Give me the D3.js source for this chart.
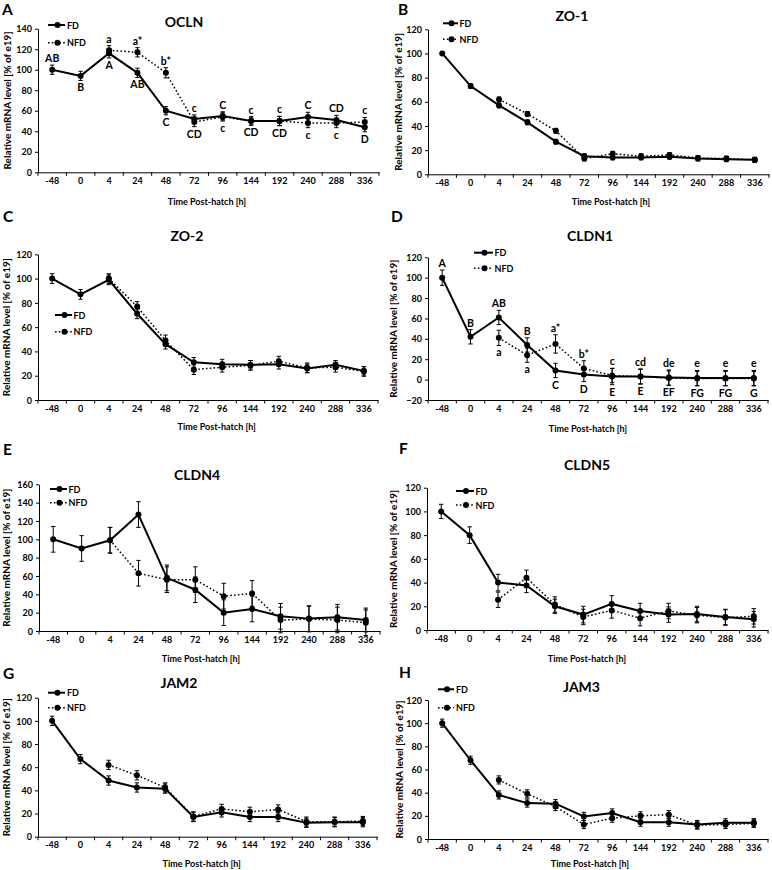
<!DOCTYPE html>
<html><head><meta charset="utf-8">
<script src="https://cdn.jsdelivr.net/npm/d3@7"></script>
<style>
body{margin:0;background:#fff}
svg{display:block}
text{font-family:Lato,"Open Sans",sans-serif;font-weight:bold;fill:#000}
</style>
</head><body>
<svg id="chart" width="772" height="870"></svg>
<script>
// ---------- DATA ----------
const categories = ["-48","0","4","24","48","72","96","144","192","240","288","336"];
const seriesNames = ["FD","NFD"];

const oclnFD     = [100, 94, 116, 97, 60, 52, 55, 50, 50, 54, 51, 44];
const oclnFDErr  = [4.5, 4.5, 4.5, 4.5, 4, 4, 4, 4, 4.5, 4.5, 4.5, 4.5];
const oclnNFD    = [null, null, 119, 117, 97, 49, 54, 50, 50, 48, 48, 49];
const oclnNFDErr = [null, null, 4.5, 4.5, 5, 4.5, 4, 4, 4.5, 4.5, 4.5, 4.5];
const oclnLabels = [[0,"above","AB"],[1,"below","B"],[2,"above","a"],[2,"below","A"],[3,"above","a*"],[3,"below","AB"],
  [4,"above","b*"],[4,"below","C"],[5,"above","c"],[5,"below","CD"],[6,"above","C"],[6,"below","c"],[7,"above","c"],[7,"below","CD"],
  [8,"above","c"],[8,"below","CD"],[9,"above","C"],[9,"below","c"],[10,"above","CD"],[10,"below","c"],[11,"above","c"],[11,"below","D"]];

const zo1FD     = [100, 73, 57, 43, 27, 15, 14, 14, 14.5, 13, 12.5, 12];
const zo1FDErr  = [1.5, 2, 2, 2, 2, 2, 2, 2, 2, 2, 2, 2];
const zo1NFD    = [null, null, 62, 50, 36, 13, 17, 15, 16, 13.5, 13, 12];
const zo1NFDErr = [null, null, 2, 2, 2, 2, 2, 2, 2, 2, 2, 2];

const zo2FD     = [100, 87, 99, 71, 46, 31, 29.5, 29, 29.5, 26, 29, 24];
const zo2FDErr  = [4, 4, 4, 4, 4, 4, 4, 3.5, 4, 3.5, 3.5, 3.5];
const zo2NFD    = [null, null, 100, 77, 49, 25, 27, 28.5, 32, 26.5, 27, 23.5];
const zo2NFDErr = [null, null, 4, 4, 4.5, 4, 4, 4, 4, 4, 4, 4];

const cldn1FD     = [100, 42, 61, 34, 9, 5, 3, 3, 2, 1.5, 1.5, 1.5];
const cldn1FDErr  = [7.5, 7, 7, 7, 7, 7, 8, 7.5, 7.5, 7.5, 7.5, 7.5];
const cldn1NFD    = [null, null, 41, 24, 35, 11, 4, 3, 1.5, 1, 1, 1];
const cldn1NFDErr = [null, null, 7.5, 7, 9, 7.5, 7, 7, 7, 7, 7, 7];
const cldn1Labels = [[0,"above","A"],[1,"above","B"],[2,"above","AB"],[2,"below","a"],[3,"above","B"],[3,"below","a"],
  [4,"above","a*"],[4,"below","C"],[5,"above","b*"],[5,"below","D"],[6,"above","c"],[6,"below","E"],[7,"above","cd"],[7,"below","E"],
  [8,"above","de"],[8,"below","EF"],[9,"above","e"],[9,"below","FG"],[10,"above","e"],[10,"below","FG"],[11,"above","e"],[11,"below","G"]];

const cldn4FD     = [100, 90, 99, 127, 58, 45, 20, 24, 16, 13.5, 15, 12];
const cldn4FDErr  = [14, 14, 14, 14, 14, 14, 14, 14, 14, 14, 14, 13];
const cldn4NFD    = [null, null, 99, 63, 56, 56, 38, 41, 12, 13, 12, 9];
const cldn4NFDErr = [null, null, 14, 14, 14, 14, 14, 14, 14, 14, 14, 14];

const cldn5FD     = [100, 80, 40, 37.5, 20, 13, 22, 16, 13, 13.5, 11, 9];
const cldn5FDErr  = [6, 7, 7, 6, 6, 7, 7, 6.5, 6.5, 6.5, 6.5, 6.5];
const cldn5NFD    = [null, null, 25.5, 44, 21.5, 11, 16.5, 10, 16, 12.5, 10.5, 11.5];
const cldn5NFDErr = [null, null, 6.5, 6.5, 6.5, 6.5, 6.5, 6.5, 6.5, 6.5, 6.5, 6.5];

const jam2FD     = [100, 67, 48.5, 42.5, 41.5, 17, 21, 17, 17, 12, 12.5, 12.5];
const jam2FDErr  = [4, 4, 4, 4, 4, 4, 4, 4, 4, 4, 4, 4];
const jam2NFD    = [null, null, 62, 53, 42.5, 17.5, 24, 21.5, 23.5, 13, 13, 13.5];
const jam2NFDErr = [null, null, 4, 4, 4, 4, 4, 4, 4, 4, 4, 4];

const jam3FD     = [100, 68, 38, 31, 30.5, 19.5, 22.5, 14.5, 14.5, 12.5, 14, 14];
const jam3FDErr  = [3.5, 3.5, 3.5, 3.5, 3.5, 3.5, 3.5, 3.5, 3.5, 3.5, 3.5, 3.5];
const jam3NFD    = [null, null, 51, 39, 28, 12.5, 18, 20, 21, 12, 12.5, 13.5];
const jam3NFDErr = [null, null, 3.5, 3.5, 3.5, 3.5, 3.5, 3.5, 3.5, 3.5, 3.5, 3.5];

const yTitle = "Relative mRNA level [% of e19]";
const xTitle = "Time Post-hatch [h]";

// ---------- LAYOUT ----------
const panels = [
 {letter:"A", gene:"OCLN", fd:oclnFD, fdErr:oclnFDErr, nfd:oclnNFD, nfdErr:oclnNFDErr, labels:oclnLabels,
  x0:38, x1:379, yTop:28.7, yBot:172.3, domain:[0,140], lx:2, ly:15, tx:184, ty:27,
  leg:{x0:48,x1:65,tx:67,y1:25,y2:42.7}, ytx:6.5, xtx:207, xtdy:29},
 {letter:"B", gene:"ZO-1", fd:zo1FD, fdErr:zo1FDErr, nfd:zo1NFD, nfdErr:zo1NFDErr, labels:[],
  x0:428, x1:769, yTop:29.3, yBot:174.3, domain:[0,120], lx:398, ly:15, tx:572, ty:21,
  leg:{x0:443,x1:458,tx:459.5,y1:23.3,y2:39.3}, ytx:398, xtx:611, xtdy:27.4},
 {letter:"C", gene:"ZO-2", fd:zo2FD, fdErr:zo2FDErr, nfd:zo2NFD, nfdErr:zo2NFDErr, labels:[],
  x0:38, x1:378, yTop:254.3, yBot:400, domain:[0,120], lx:3, ly:222, tx:187, ty:241,
  leg:{x0:55,x1:72,tx:73.5,y1:315,y2:331.7}, ytx:6, xtx:216.7, xtdy:26.7},
 {letter:"D", gene:"CLDN1", fd:cldn1FD, fdErr:cldn1FDErr, nfd:cldn1NFD, nfdErr:cldn1NFDErr, labels:cldn1Labels,
  x0:428, x1:768, yTop:257.3, yBot:400, domain:[-20,120], lx:391, ly:222, tx:590, ty:241,
  leg:{x0:474,x1:493,tx:494.5,y1:252.7,y2:268.3}, ytx:392.7, xtx:588, xtdy:28},
 {letter:"E", gene:"CLDN4", fd:cldn4FD, fdErr:cldn4FDErr, nfd:cldn4NFD, nfdErr:cldn4NFDErr, labels:[],
  x0:39, x1:380, yTop:484.3, yBot:631, domain:[0,160], lx:3, ly:455, tx:197, ty:480,
  leg:{x0:50,x1:67,tx:68.5,y1:489,y2:502.7}, ytx:6, xtx:201, xtdy:27},
 {letter:"F", gene:"CLDN5", fd:cldn5FD, fdErr:cldn5FDErr, nfd:cldn5NFD, nfdErr:cldn5NFDErr, labels:[],
  x0:427, x1:768, yTop:487.7, yBot:630, domain:[0,120], lx:399, ly:454, tx:587, ty:470,
  leg:{x0:456,x1:474,tx:475.5,y1:491,y2:505}, ytx:392.7, xtx:587, xtdy:28},
 {letter:"G", gene:"JAM2", fd:jam2FD, fdErr:jam2FDErr, nfd:jam2NFD, nfdErr:jam2NFDErr, labels:[],
  x0:38, x1:377, yTop:697.7, yBot:836.7, domain:[0,120], lx:3, ly:679, tx:179, ty:688,
  leg:{x0:48,x1:65,tx:67,y1:692.7,y2:707.7}, ytx:6, xtx:201.7, xtdy:26.6},
 {letter:"H", gene:"JAM3", fd:jam3FD, fdErr:jam3FDErr, nfd:jam3NFD, nfdErr:jam3NFDErr, labels:[],
  x0:428, x1:768, yTop:700, yBot:839, domain:[0,120], lx:399, ly:678, tx:581.5, ty:692,
  leg:{x0:438,x1:454,tx:456,y1:689.3,y2:707.7}, ytx:399.3, xtx:590, xtdy:24.3}
];

const svg = d3.select("#chart");
const DOT = "1.6,2.2";

function drawPanel(p){
  const g = svg.append("g");
  const x = d3.scaleBand().domain(categories).range([p.x0, p.x1]).padding(0);
  const y = d3.scaleLinear().domain(p.domain).range([p.yBot, p.yTop]);
  const cx = i => x(categories[i]) + x.bandwidth()/2;

  // y axis
  const ya = g.append("g").attr("transform", `translate(${p.x0},0)`)
    .call(d3.axisLeft(y).tickValues(d3.range(p.domain[0], p.domain[1] + 1, 20)).tickSize(3).tickSizeOuter(0).tickPadding(3));
  ya.attr("font-family", null).attr("font-size", null);
  ya.selectAll("text").style("font-size", "9px").attr("dy", "0.35em");
  ya.selectAll("line,path").attr("stroke", "#000").attr("stroke-width", 1);

  // x axis
  const xa = g.append("g").attr("transform", `translate(0,${p.yBot})`)
    .call(d3.axisBottom(x).tickSize(0).tickSizeOuter(0).tickPadding(8.5));
  xa.attr("font-family", null).attr("font-size", null);
  xa.selectAll("text").style("font-size", "9px").attr("dy", "0.35em");
  xa.select("path").attr("stroke", "#000").attr("stroke-width", 1);
  const bounds = categories.map(c => x(c)).concat([p.x1]);
  xa.selectAll("line.bt").data(bounds).join("line").attr("class","bt")
    .attr("x1", d => d).attr("x2", d => d).attr("y1", 0).attr("y2", 3.5)
    .attr("stroke", "#000").attr("stroke-width", 1);

  // titles
  g.append("text").attr("x", p.ytx).attr("y", (p.yTop + p.yBot)/2)
    .attr("transform", `rotate(-90,${p.ytx},${(p.yTop + p.yBot)/2})`)
    .attr("text-anchor", "middle").attr("dominant-baseline", "central")
    .style("font-size", "10px").text(yTitle);
  g.append("text").attr("x", p.xtx).attr("y", p.yBot + p.xtdy)
    .attr("text-anchor", "middle").attr("dominant-baseline", "central")
    .style("font-size", "9px").text(xTitle);
  g.append("text").attr("x", p.tx).attr("y", p.ty).attr("text-anchor", "middle")
    .style("font-size", "14px").text(p.gene);
  g.append("text").attr("x", p.lx).attr("y", p.ly).style("font-size", "15.5px").text(p.letter);

  // series
  const series = [
    {name:"NFD", vals:p.nfd, err:p.nfdErr, dash:DOT, width:1.5},
    {name:"FD", vals:p.fd, err:p.fdErr, dash:null, width:2}
  ];
  series.forEach(s => {
    const pts = s.vals.map((v, i) => ({v, i, e: s.err[i]})).filter(d => d.v != null);
    const line = d3.line().x(d => cx(d.i)).y(d => y(d.v));
    g.append("path").datum(pts).attr("d", line).attr("fill", "none")
      .attr("stroke", "#000").attr("stroke-width", s.width)
      .attr("stroke-dasharray", s.dash);
    const eb = g.append("g");
    pts.forEach(d => {
      eb.append("line").attr("x1", cx(d.i)).attr("x2", cx(d.i))
        .attr("y1", y(d.v - d.e)).attr("y2", y(d.v + d.e)).attr("stroke", "#000").attr("stroke-width", 1);
      [d.v - d.e, d.v + d.e].forEach(t => eb.append("line")
        .attr("x1", cx(d.i) - 2.2).attr("x2", cx(d.i) + 2.2)
        .attr("y1", y(t)).attr("y2", y(t)).attr("stroke", "#000").attr("stroke-width", 1));
    });
    g.selectAll(null).data(pts).join("circle")
      .attr("cx", d => cx(d.i)).attr("cy", d => y(d.v)).attr("r", 3).attr("fill", "#000");
  });

  // significance labels
  p.labels.forEach(([i, pos, txt]) => {
    const hi = [], lo = [];
    [[p.fd, p.fdErr], [p.nfd, p.nfdErr]].forEach(([vs, es]) => {
      if (vs[i] != null) { hi.push(vs[i] + es[i]); lo.push(vs[i] - es[i]); }
    });
    const yy = pos === "above" ? y(d3.max(hi)) - 7 : y(d3.min(lo)) + 7;
    g.append("text").attr("x", cx(i)).attr("y", yy).attr("text-anchor", "middle")
      .attr("dominant-baseline", "central").style("font-size", "10.5px").text(txt);
  });

  // legend
  const L = p.leg;
  [[seriesNames[0], L.y1, null, 2], [seriesNames[1], L.y2, DOT, 1.5]].forEach(([nm, ly, dash, w]) => {
    g.append("line").attr("x1", L.x0).attr("x2", L.x1).attr("y1", ly).attr("y2", ly)
      .attr("stroke", "#000").attr("stroke-width", w).attr("stroke-dasharray", dash);
    g.append("circle").attr("cx", (L.x0 + L.x1)/2 + 1).attr("cy", ly).attr("r", 3).attr("fill", "#000");
    g.append("text").attr("x", L.tx).attr("y", ly).attr("dominant-baseline", "central")
      .style("font-size", "9px").text(nm);
  });
}

panels.forEach(drawPanel);
</script>
</body></html>
